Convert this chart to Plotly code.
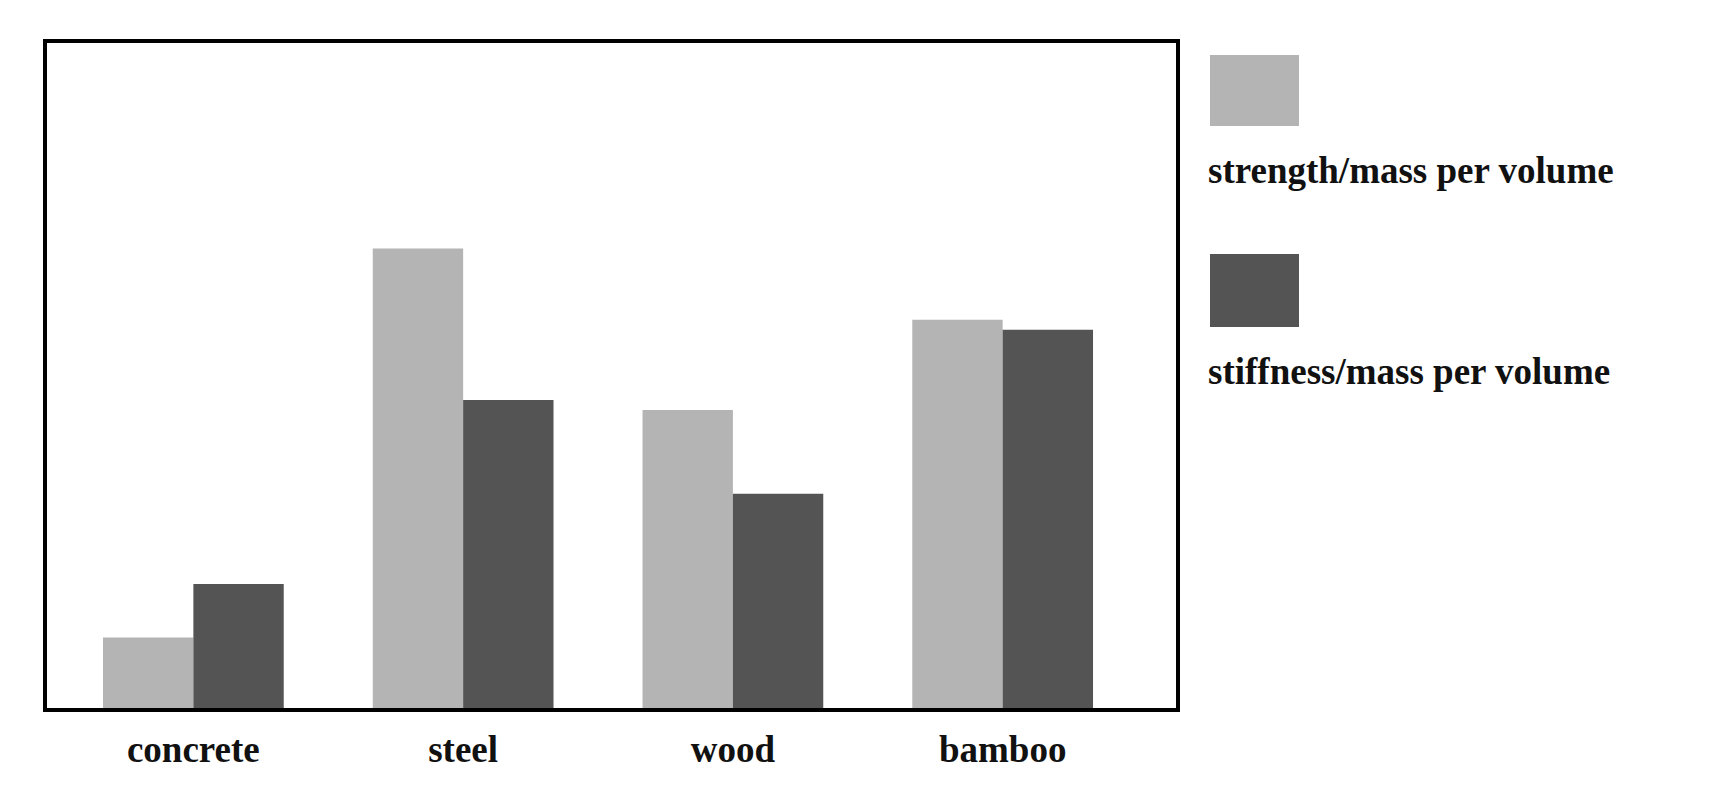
import plotly.graph_objects as go

categories = ["concrete", "steel", "wood", "bamboo"]
strength = [65, 414, 269, 350]
stiffness = [113, 278, 194, 341]
series_names = ["strength/mass per volume", "stiffness/mass per volume"]
colors = ["#b4b4b4", "#545454"]

W, H = 1734, 786
L, R, T, B = 37, 564, 33, 84
pw, ph = W - L - R, H - T - B

fig = go.Figure()
for name, vals, c in zip(series_names, [strength, stiffness], colors):
    fig.add_trace(go.Bar(x=categories, y=vals, name=name, marker_color=c,
                         marker_line_width=0, showlegend=False))

def px(x): return (x - L) / pw
def py(y): return 1 - (y - T) / ph

shapes = [dict(type="rect", xref="paper", yref="paper", x0=0, x1=1, y0=0, y1=1,
               line=dict(color="black", width=4))]
ann = []
for (y0, y1, ty), name, c in zip([(47, 118, 163), (246, 319, 364)], series_names, colors):
    shapes.append(dict(type="rect", xref="paper", yref="paper", x0=px(1202), x1=px(1291),
                       y0=py(y1), y1=py(y0), fillcolor=c, line_width=0))
    ann.append(dict(xref="paper", yref="paper", x=px(1198), y=py(ty), xanchor="left",
                    yanchor="middle", showarrow=False, text="<b>" + name + "</b>",
                    font=dict(family="Liberation Serif", size=37, color="#111")))

fig.update_layout(
    width=W, height=H, margin=dict(l=L, r=R, t=T, b=B),
    barmode="group", bargap=0.33, bargroupgap=0.0,
    plot_bgcolor="white", paper_bgcolor="white",
    xaxis=dict(range=[-0.55, 3.65], showgrid=False, ticks="", showline=False,
               ticklabelstandoff=14,
               tickvals=categories, ticktext=["<b>" + c + "</b>" for c in categories],
               tickfont=dict(family="Liberation Serif", size=37, color="#111")),
    yaxis=dict(range=[0, 600], showgrid=False, showticklabels=False, zeroline=False, ticks=""),
    shapes=shapes, annotations=ann,
)
fig.write_html("out.html")
